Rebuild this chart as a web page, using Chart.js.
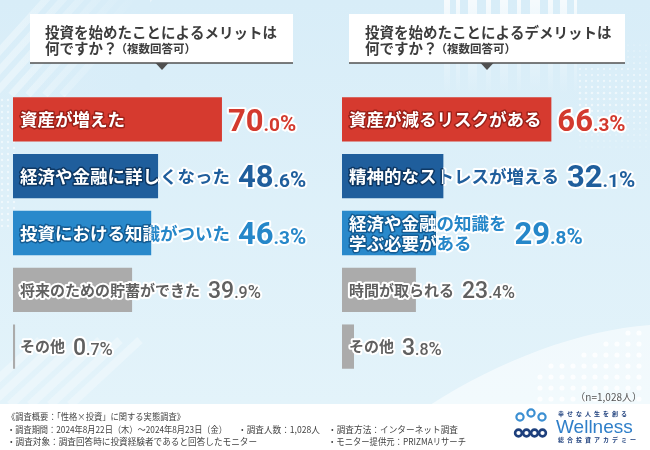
<!DOCTYPE html>
<html>
<head>
<meta charset="utf-8">
<script src="https://cdn.jsdelivr.net/npm/chart.js@4"></script>
<style>
  body { margin: 0; }
  #wrap { position: relative; width: 650px; height: 450px; overflow: hidden; }
  canvas { position: absolute; }
</style>
</head>
<body>
<div id="wrap">
  <canvas id="bg" width="650" height="450" style="left:0;top:0"></canvas>
  <canvas id="meritChart" width="325" height="295" style="left:0;top:85px"></canvas>
  <canvas id="demeritChart" width="325" height="295" style="left:325px;top:85px"></canvas>
</div>
<script>
// data
const meritLabels = ['資産が増えた', '経済や金融に詳しくなった', '投資における知識がついた', '将来のための貯蓄ができた', 'その他'];
const meritValues = [70.0, 48.6, 46.3, 39.9, 0.7];
const demeritLabels = ['資産が減るリスクがある', '精神的なストレスが増える', ['経済や金融の知識を', '学ぶ必要がある'], '時間が取られる', 'その他'];
const demeritValues = [66.3, 32.1, 29.8, 23.4, 3.8];

const meritTitle = ['投資を始めたことによるメリットは', '何ですか？'];
const demeritTitle = ['投資を始めたことによるデメリットは', '何ですか？'];
const titleNote = '（複数回答可）';
const sampleNote = '（n=1,028人）';
const footerLines = [
  ['《調査概要：「性格×投資」に関する実態調査》'],
  ['・調査期間：2024年8月22日（木）～2024年8月23日（金）', '・調査人数：1,028人', '・調査方法：インターネット調査'],
  ['・調査対象：調査回答時に投資経験者であると回答したモニター', '', '・モニター提供元：PRIZMAリサーチ']
];

const JP = '"Noto Sans CJK JP", "Noto Sans", sans-serif';
const NUM = 'Roboto, "Liberation Sans", sans-serif';

// one style per row (same order on both sides)
const rowStyles = [
  { bar: '#d63a2f', edge: '#9c2119', text: '#d33a2e', big: true },
  { bar: '#1f5e9c', edge: '#0e3864', text: '#1f5e9c', big: true },
  { bar: '#2989cb', edge: '#135b92', text: '#2687c9', big: true },
  { bar: '#ababab', edge: null, text: '#606060', big: false },
  { bar: '#ababab', edge: null, text: '#606060', big: false }
];

function drawBackground() {
  const g = document.getElementById('bg').getContext('2d');
  const grad = g.createLinearGradient(0, 0, 0, 404);
  grad.addColorStop(0, '#d8edf8');
  grad.addColorStop(1, '#e3f3fa');
  g.fillStyle = grad;
  g.fillRect(0, 0, 650, 450);

  // diagonal stripes top left
  g.save();
  g.strokeStyle = 'rgba(255,255,255,0.35)';
  g.lineWidth = 7;
  for (let k = 0; k < 7; k++) {
    g.beginPath();
    g.moveTo(-40 + k * 17, 95);
    g.lineTo(50 + k * 17, -5);
    g.stroke();
  }
  g.restore();
  // fade the stripes out to the right
  const fade = g.createLinearGradient(20, 0, 140, 0);
  fade.addColorStop(0, 'rgba(216,237,248,0)');
  fade.addColorStop(1, 'rgba(216,237,248,1)');
  g.fillStyle = fade;
  g.fillRect(20, 0, 130, 95);

  // vertical stripes top middle-right
  const vs = [[444, 6], [456, 4], [468, 9], [486, 5], [500, 8], [517, 4], [530, 10], [548, 5], [560, 7], [574, 3]];
  vs.forEach(([x, w]) => {
    const sg = g.createLinearGradient(0, 0, 0, 95);
    sg.addColorStop(0, 'rgba(255,255,255,0.75)');
    sg.addColorStop(1, 'rgba(255,255,255,0)');
    g.fillStyle = sg;
    g.fillRect(x, 0, w, 95);
  });

  // dots right and left
  g.fillStyle = 'rgba(255,255,255,0.55)';
  for (let x = 580; x < 650; x += 6) {
    for (let y = 45; y < 150; y += 6) {
      const r = Math.max(0, 1.4 - Math.abs(y - 95) / 60);
      if (r > 0.2) { g.beginPath(); g.arc(x, y, r, 0, Math.PI * 2); g.fill(); }
    }
  }
  for (let x = 2; x < 16; x += 6) {
    for (let y = 100; y < 230; y += 6) {
      g.beginPath(); g.arc(x, y, 1.2, 0, Math.PI * 2); g.fill();
    }
  }

  // bottom right wave
  g.fillStyle = 'rgba(255,255,255,0.55)';
  g.beginPath();
  g.moveTo(430, 405);
  g.bezierCurveTo(500, 360, 580, 330, 650, 325);
  g.lineTo(650, 405);
  g.closePath();
  g.fill();
  g.fillStyle = 'rgba(255,255,255,0.8)';
  for (let x = 540; x < 650; x += 11) {
    for (let y = 300; y < 400; y += 11) {
      if (y > 420 - (x - 430) * 0.45) { g.beginPath(); g.arc(x, y, 2.6, 0, Math.PI * 2); g.fill(); }
    }
  }
  // bottom left faint stripes
  g.strokeStyle = 'rgba(255,255,255,0.3)';
  g.lineWidth = 8;
  for (let k = 0; k < 6; k++) {
    g.beginPath();
    g.moveTo(-30 + k * 20, 405);
    g.lineTo(40 + k * 20, 340);
    g.stroke();
  }

  // title boxes
  drawTitle(g, 30, 293, 45, 162, meritTitle);
  drawTitle(g, 349, 625, 365, 487, demeritTitle);

  // footer band
  g.fillStyle = '#ffffff';
  g.fillRect(0, 404, 650, 46);

  g.fillStyle = '#555';
  g.font = `10px ${JP}`;
  g.textAlign = 'right';
  g.textBaseline = 'middle';
  g.fillText(sampleNote, 642, 397);

  g.textAlign = 'left';
  g.fillStyle = '#444';
  g.font = `9px ${JP}`;
  const colX = [7, 238, 328];
  const colW = [[178], [220, 82, 130], [250, 0, 138]];
  footerLines.forEach((line, r) => {
    line.forEach((t, c) => {
      if (t) g.fillText(t, colX[c], 417 + r * 12.5, colW[r][c]);
    });
  });

  drawLogo(g);
}

function drawTitle(g, x1, x2, tx, triX, lines) {
  g.fillStyle = '#ffffff';
  g.fillRect(x1, 14, x2 - x1, 49);
  g.strokeStyle = '#505050';
  g.lineWidth = 1.5;
  g.beginPath();
  g.moveTo(x1, 63);
  g.lineTo(x2, 63);
  g.stroke();
  g.fillStyle = '#505050';
  g.beginPath();
  g.moveTo(triX - 6.5, 63);
  g.lineTo(triX + 6.5, 63);
  g.lineTo(triX, 70);
  g.closePath();
  g.fill();

  g.fillStyle = '#3c3c3c';
  g.textBaseline = 'middle';
  g.textAlign = 'left';
  g.font = `bold 14.5px ${JP}`;
  g.fillText(lines[0], tx, 32);
  g.fillText(lines[1], tx, 48.5);
  const w = g.measureText(lines[1]).width;
  g.font = `bold 11.5px ${JP}`;
  g.fillText(titleNote, tx + w - 2, 49);
}

function drawLogo(g) {
  // heads
  g.strokeStyle = '#3b8fd2';
  g.lineWidth = 2.2;
  [[520, 417], [531, 413], [542, 417]].forEach(([x, y]) => {
    g.beginPath(); g.arc(x, y, 3.6, 0, Math.PI * 2); g.stroke();
  });
  // bodies
  g.strokeStyle = '#1d3f7c';
  g.lineWidth = 2.6;
  [[518.5, 433], [526.5, 433], [534.5, 433], [542.5, 433]].forEach(([x, y]) => {
    g.beginPath(); g.arc(x, y, 3.4, 0, Math.PI * 2); g.stroke();
  });
  g.fillStyle = '#2f7fc9';
  g.font = `19px "Liberation Sans", Arial, sans-serif`;
  g.textBaseline = 'alphabetic';
  g.fillText('Wellness', 556, 433);
  g.fillStyle = '#1d3f7c';
  g.font = `bold 6px ${JP}`;
  g.textBaseline = 'middle';
  const top = '幸せな人生を創る';
  const bottom = '総合投資アカデミー';
  [...top].forEach((ch, k) => g.fillText(ch, 558 + k * 9, 414));
  [...bottom].forEach((ch, k) => g.fillText(ch, 558 + k * 9, 440));
}

const barLabelPlugin = {
  id: 'barLabels',
  afterDatasetsDraw(chart) {
    const ctx = chart.ctx;
    const labels = chart.data.labels;
    const values = chart.data.datasets[0].data;
    chart.getDatasetMeta(0).data.forEach((bar, i) => {
      const s = rowStyles[i];
      const lines = Array.isArray(labels[i]) ? labels[i] : [labels[i]];
      const size = s.big ? 17.5 : 15;
      const x0 = bar.base + 7;
      const end = bar.x;
      const lh = 20;
      const y0 = bar.y - (lines.length - 1) * lh / 2;
      ctx.save();
      ctx.font = `bold ${size}px ${JP}`;
      ctx.textBaseline = 'middle';
      ctx.textAlign = 'left';
      ctx.lineJoin = 'round';
      let labelEnd = x0;
      lines.forEach(t => { labelEnd = Math.max(labelEnd, x0 + ctx.measureText(t).width); });

      const paint = (stroke, fill, lw) => {
        ctx.lineWidth = lw;
        ctx.strokeStyle = stroke;
        lines.forEach((t, k) => ctx.strokeText(t, x0, y0 + k * lh));
        ctx.fillStyle = fill;
        lines.forEach((t, k) => ctx.fillText(t, x0, y0 + k * lh));
      };
      if (s.edge) {
        ctx.save();
        ctx.beginPath(); ctx.rect(end, 0, chart.width, chart.height); ctx.clip();
        paint('#ffffff', s.text, 4);
        ctx.restore();
        ctx.save();
        ctx.beginPath(); ctx.rect(0, 0, end, chart.height); ctx.clip();
        paint(s.edge, '#ffffff', 3);
        ctx.restore();
      } else {
        paint('#ffffff', s.text, 4);
      }

      // value: big integer, smaller decimals and percent sign
      const [ip, dp] = values[i].toFixed(1).split('.');
      const sz = s.big ? [31, 19, 22] : [23, 16, 18];
      const weight = s.big ? 'bold' : '500';
      const parts = [[ip, sz[0]], ['.' + dp, sz[1]], ['%', sz[2]]];
      let vx = Math.max(end + 6, labelEnd + 8);
      const baseY = bar.y + sz[0] * 0.36;
      ctx.textBaseline = 'alphabetic';
      const placed = parts.map(([t, fs]) => {
        ctx.font = `${weight} ${fs}px ${NUM}`;
        const p = { t, fs, x: vx };
        vx += ctx.measureText(t).width;
        return p;
      });
      ctx.lineWidth = 4;
      ctx.strokeStyle = '#ffffff';
      placed.forEach(p => { ctx.font = `${weight} ${p.fs}px ${NUM}`; ctx.strokeText(p.t, p.x, baseY); });
      ctx.fillStyle = s.text;
      placed.forEach(p => { ctx.font = `${weight} ${p.fs}px ${NUM}`; ctx.fillText(p.t, p.x, baseY); });
      ctx.restore();
    });
  }
};

function makeChart(id, labels, values, xMax, padLeft, padRight) {
  return new Chart(document.getElementById(id), {
    type: 'bar',
    data: {
      labels: labels,
      datasets: [{
        data: values,
        backgroundColor: rowStyles.map(s => s.bar),
        borderWidth: 0,
        categoryPercentage: 1,
        barPercentage: 0.78
      }]
    },
    options: {
      indexAxis: 'y',
      responsive: false,
      animation: false,
      layout: { padding: { left: padLeft, right: padRight, top: 6, bottom: 5 } },
      scales: {
        x: { display: false, min: 0, max: xMax },
        y: { display: false }
      },
      plugins: {
        legend: { display: false },
        tooltip: { enabled: false }
      }
    },
    plugins: [barLabelPlugin]
  });
}

drawBackground();
makeChart('meritChart', meritLabels, meritValues, 100, 13, 13.5);
makeChart('demeritChart', demeritLabels, demeritValues, 95, 17, 8);
</script>
</body>
</html>
